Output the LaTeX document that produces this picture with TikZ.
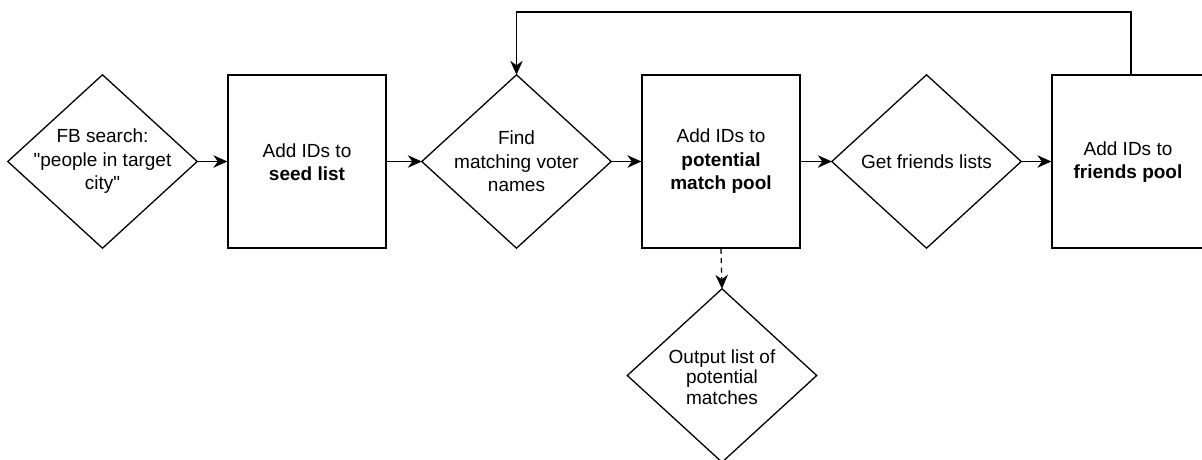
\documentclass[tikz,border=0pt]{standalone}
\usepackage{fontspec}
\setmainfont{Liberation Sans}
\usetikzlibrary{arrows.meta}
\font\qf="Liberation Sans" at 19pt
\newcommand{\sq}{{\qf\char34}}
\tikzset{
  lbl/.style={font=\fontsize{19}{23.5}\selectfont, align=center, inner sep=0pt},
  boxnode/.style={draw, line width=1.3pt, minimum width=158pt, minimum height=173pt, inner sep=0pt},
  dnode/.style={minimum width=189pt, minimum height=173pt, inner sep=0pt},
  dline/.style={line width=1.3pt, line join=miter},
  conn/.style={line width=1.3pt, -{Stealth[length=14pt,width=12.5pt,inset=4.5pt]}},
  dconn/.style={conn, dash pattern=on 5pt off 4.5pt},
}
\begin{document}
\begin{tikzpicture}[x=1pt,y=-1pt]
\useasboundingbox (0,0) rectangle (1202,460);
\fill[white] (0,0) rectangle (1202,460);
% nodes
\node[dnode] (d1) at (102.5,161.5) {};
\node[lbl] (t1) at (102.5,161.5) {FB search:\\\sq people in target\\city\sq};
\node[boxnode] (b1) at (307,161.5) {};
\node[lbl] (tb1) at (307,162) {Add IDs to\\\textbf{seed list}};
\node[dnode] (d2) at (516.5,161.5) {};
\node[lbl] (t2) at (516.5,161.5) {Find\\matching voter\\names};
\node[boxnode] (b2) at (721,161.5) {};
\node[lbl] (tb2) at (721,161.5) {Add IDs to\\\textbf{potential}\\\textbf{match pool}};
\node[dnode] (d3) at (926.5,161.5) {};
\node[lbl] (t3) at (926.5,161.5) {Get friends lists};
\node[boxnode] (b3) at (1131,161.5) {};
\node[lbl] (tb3) at (1128,162) {Add IDs to\\\textbf{friends pool}};
\node[dnode] (d4) at (722,375.5) {};
\node[lbl, font=\fontsize{19}{20.5}\selectfont] (t4) at (722,377) {Output list of\\potential\\matches};
% diamonds
\foreach \d in {d1,d2,d3,d4}{
  \draw[dline] (\d.north) -- (\d.east) -- (\d.south) -- (\d.west) -- cycle;
}
% connectors
\draw[conn] (d1.east) -- (b1.west);
\draw[conn] (b1.east) -- (d2.west);
\draw[conn] (d2.east) -- (b2.west);
\draw[conn] (b2.east) -- (d3.west);
\draw[conn] (d3.east) -- (b3.west);
\coordinate (fr) at (1131,12);
\coordinate (fl) at (516.5,12);
\draw[conn] (b3.north) -- (fr) -- (fl) -- (d2.north);
\draw[dconn] (b2.south) -- (d4.north);
\end{tikzpicture}
\end{document}
